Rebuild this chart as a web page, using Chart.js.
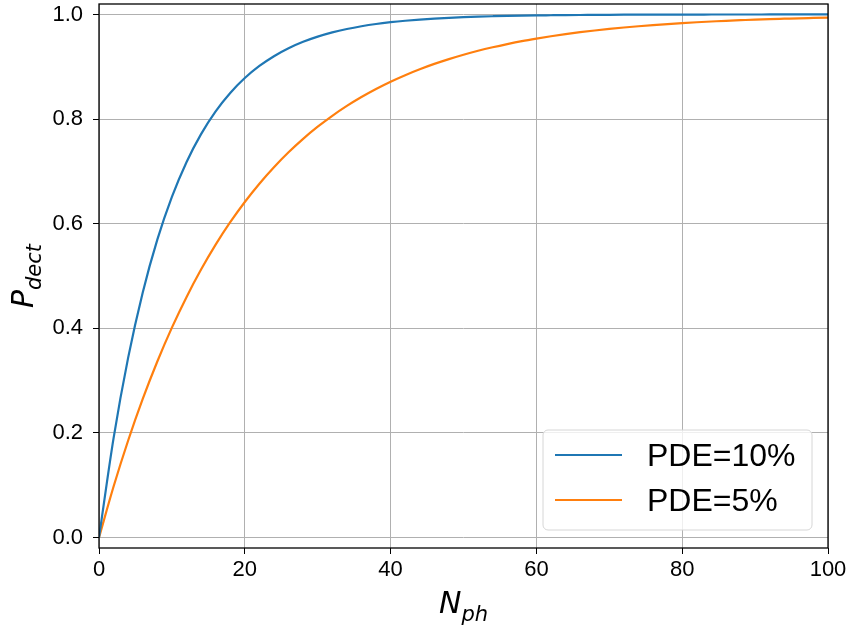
<!DOCTYPE html>
<html>
<head>
<meta charset="utf-8">
<script src="https://cdn.jsdelivr.net/npm/chart.js@4/dist/chart.umd.min.js"></script>
<style>
  html, body { margin: 0; padding: 0; background: #ffffff; }
  #wrap { width: 852px; height: 632px; }
</style>
</head>
<body>
<div id="wrap"><canvas id="c" width="852" height="632"></canvas></div>
<script>
// Number of photons
const nPh = [0,2,4,6,8,10,12,14,16,18,20,22,24,26,28,30,32,34,36,38,40,42,44,46,48,50,
             52,54,56,58,60,62,64,66,68,70,72,74,76,78,80,82,84,86,88,90,92,94,96,98,100];
// Detection probability, PDE = 10%
const pdet10 = [0,0.1900,0.3439,0.4686,0.5695,0.6513,0.7176,0.7712,0.8147,0.8499,0.8784,
                0.9015,0.9202,0.9354,0.9477,0.9576,0.9657,0.9722,0.9775,0.9818,0.9852,
                0.9880,0.9903,0.9921,0.9936,0.9948,0.9958,0.9966,0.9973,0.9978,0.9982,
                0.9985,0.9988,0.9990,0.9992,0.9994,0.9995,0.9996,0.9997,0.9997,0.9998,
                0.9998,0.9999,0.9999,0.9999,0.9999,1.0000,1.0000,1.0000,1.0000,1.0000];
// Detection probability, PDE = 5%
const pdet5 = [0,0.0975,0.1855,0.2649,0.3366,0.4013,0.4596,0.5123,0.5599,0.6028,0.6415,
               0.6765,0.7080,0.7365,0.7622,0.7854,0.8063,0.8252,0.8422,0.8576,0.8715,
               0.8840,0.8953,0.9055,0.9147,0.9231,0.9306,0.9373,0.9434,0.9490,0.9539,
               0.9584,0.9625,0.9661,0.9694,0.9724,0.9751,0.9775,0.9797,0.9817,0.9835,
               0.9851,0.9865,0.9879,0.9890,0.9901,0.9911,0.9919,0.9927,0.9934,0.9941];
const seriesLabels = ['PDE=10%', 'PDE=5%'];
const xTicks = [0, 20, 40, 60, 80, 100];
const yTicks = [0.0, 0.2, 0.4, 0.6, 0.8, 1.0];

const BLUE = '#1f77b4', ORANGE = '#ff7f0e';
const FONT = '"Liberation Sans", Arial, Helvetica, sans-serif';
const MATH = '"DejaVu Sans", sans-serif';

// Frame, axis titles with subscripts, and the legend box
const decor = {
  id: 'decor',
  afterDraw(chart) {
    const { ctx, chartArea: a } = chart;
    ctx.save();
    // axes frame
    ctx.strokeStyle = '#000';
    ctx.lineWidth = 1.3;
    ctx.strokeRect(a.left, a.top, a.right - a.left, a.bottom - a.top);

    // italic symbol with italic subscript
    function subText(main, sub, x, y) {
      ctx.font = 'italic 30px ' + MATH;
      const w1 = ctx.measureText(main).width;
      ctx.font = 'italic 21px ' + MATH;
      const w2 = ctx.measureText(sub).width;
      const x0 = x - (w1 + w2) / 2;
      ctx.textBaseline = 'alphabetic';
      ctx.textAlign = 'left';
      ctx.fillStyle = '#000';
      ctx.font = 'italic 30px ' + MATH;
      ctx.fillText(main, x0, y);
      ctx.font = 'italic 21px ' + MATH;
      ctx.fillText(sub, x0 + w1, y + 8);
    }
    subText('N', 'ph', (a.left + a.right) / 2, 613);
    ctx.save();
    ctx.translate(33, (a.top + a.bottom) / 2);
    ctx.rotate(-Math.PI / 2);
    subText('P', 'dect', 0, 0);
    ctx.restore();

    // legend
    const lx = 543, ly = 430, lw = 269, lh = 100, r = 5;
    ctx.beginPath();
    ctx.moveTo(lx + r, ly);
    ctx.arcTo(lx + lw, ly, lx + lw, ly + lh, r);
    ctx.arcTo(lx + lw, ly + lh, lx, ly + lh, r);
    ctx.arcTo(lx, ly + lh, lx, ly, r);
    ctx.arcTo(lx, ly, lx + lw, ly, r);
    ctx.closePath();
    ctx.fillStyle = 'rgba(255,255,255,0.8)';
    ctx.fill();
    ctx.strokeStyle = '#d6d6d6';
    ctx.lineWidth = 1;
    ctx.stroke();
    const colors = [BLUE, ORANGE];
    const rowsY = [455, 500];
    ctx.font = '32px ' + FONT;
    ctx.textBaseline = 'alphabetic';
    ctx.textAlign = 'left';
    for (let i = 0; i < seriesLabels.length; i++) {
      ctx.strokeStyle = colors[i];
      ctx.lineWidth = 2.2;
      ctx.beginPath();
      ctx.moveTo(555, rowsY[i]);
      ctx.lineTo(622, rowsY[i]);
      ctx.stroke();
      ctx.fillStyle = '#000';
      ctx.fillText(seriesLabels[i], 647, rowsY[i] + 11);
    }
    ctx.restore();
  }
};

new Chart(document.getElementById('c'), {
  type: 'line',
  data: {
    datasets: [
      { label: seriesLabels[0], data: nPh.map((x, i) => ({ x, y: pdet10[i] })),
        borderColor: BLUE, borderWidth: 2.2, pointRadius: 0, cubicInterpolationMode: 'monotone', fill: false },
      { label: seriesLabels[1], data: nPh.map((x, i) => ({ x, y: pdet5[i] })),
        borderColor: ORANGE, borderWidth: 2.2, pointRadius: 0, cubicInterpolationMode: 'monotone', fill: false }
    ]
  },
  options: {
    responsive: false,
    animation: false,
    events: [],
    layout: { padding: { left: 0, right: 24, top: 4, bottom: 0 } },
    plugins: { legend: { display: false }, tooltip: { enabled: false } },
    scales: {
      x: {
        type: 'linear', min: 0, max: 100,
        afterFit(s) { s.height = 84; s.paddingLeft = 0; s.paddingRight = 0; },
        afterBuildTicks(s) { s.ticks = xTicks.map(v => ({ value: v })); },
        grid: { color: '#b0b0b0', lineWidth: 1, tickColor: '#000', tickLength: 6, drawOnChartArea: true },
        border: { display: false },
        ticks: { color: '#000', font: { family: FONT, size: 22 }, padding: 3, maxRotation: 0,
                 callback: v => String(v) }
      },
      y: {
        type: 'linear', min: -0.02, max: 1.02,
        afterFit(s) { s.width = 99; s.paddingTop = 0; s.paddingBottom = 0; },
        afterBuildTicks(s) { s.ticks = yTicks.map(v => ({ value: v })); },
        grid: { color: '#b0b0b0', lineWidth: 1, tickColor: '#000', tickLength: 6 },
        border: { display: false },
        ticks: { color: '#000', font: { family: FONT, size: 22 }, padding: 10,
                 callback: v => Number(v).toFixed(1) }
      }
    }
  },
  plugins: [decor]
});
</script>
</body>
</html>
